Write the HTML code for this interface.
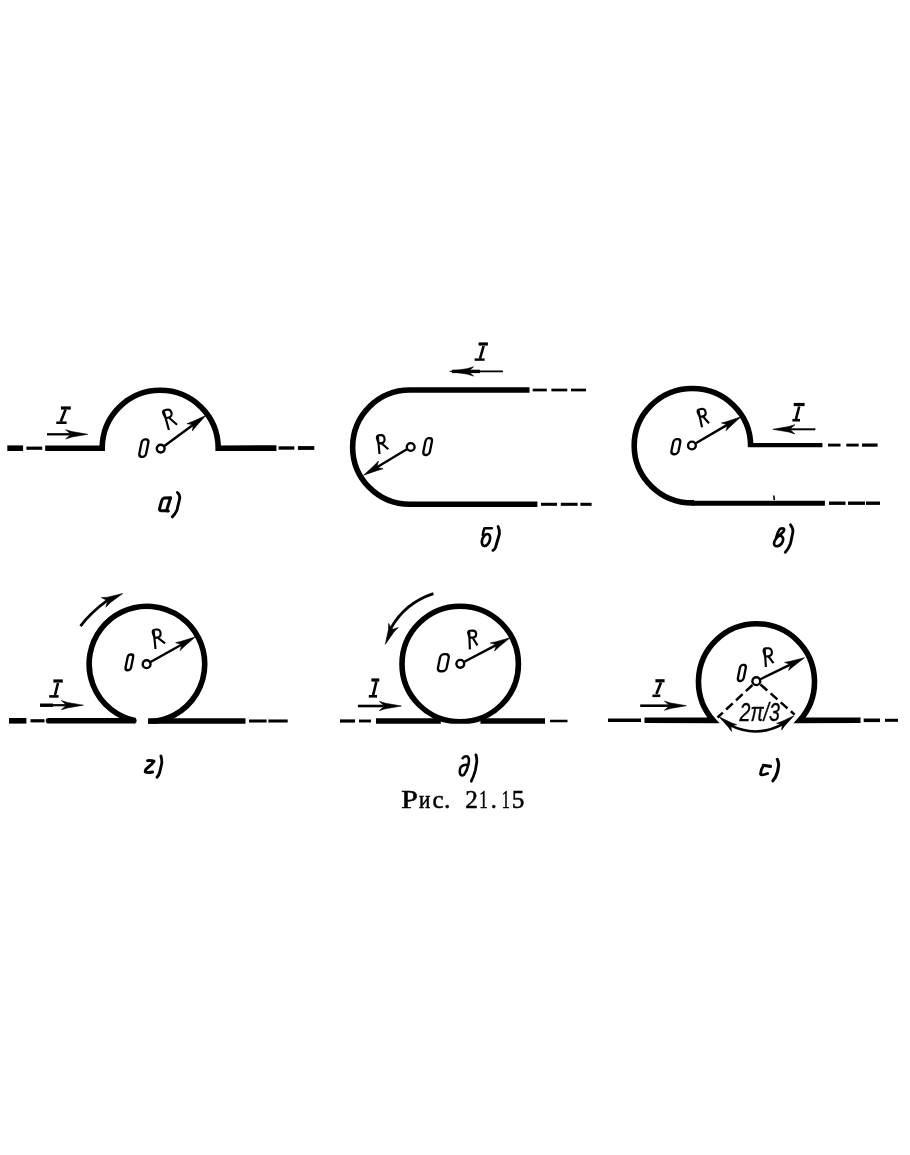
<!DOCTYPE html>
<html><head><meta charset="utf-8"><style>html,body{margin:0;padding:0;background:#fff;overflow:hidden;}svg{display:block;filter:blur(0.4px)}</style></head>
<body><svg width="910" height="1155" viewBox="0 0 910 1155" stroke="#000" fill="none">
<line x1="7.3" y1="448.2" x2="23.1" y2="448.2" stroke-width="5.6" stroke-linecap="butt"/>
<line x1="26.4" y1="448.2" x2="42.2" y2="448.2" stroke-width="3.23" stroke-linecap="butt"/>
<path d="M45.2,448.2 L102.2,448.2 A58,58 0 0 1 218.2,448.2 L276.4,448.1" stroke-width="5.6" fill="none" stroke-linecap="butt" stroke-linejoin="miter"/>
<line x1="278.6" y1="448" x2="294.3" y2="448" stroke-width="3.4" stroke-linecap="butt"/>
<line x1="297.9" y1="448" x2="314.3" y2="448" stroke-width="3.82" stroke-linecap="butt"/>
<line x1="60.9" y1="408" x2="70.8" y2="408" stroke-width="3.2" stroke-linecap="butt"/>
<line x1="56.3" y1="422.7" x2="66.6" y2="422.7" stroke-width="2.6" stroke-linecap="butt"/>
<line x1="65.6" y1="409.5" x2="60.8" y2="421.5" stroke-width="2.6" stroke-linecap="butt"/>
<line x1="47" y1="434.3" x2="69.7" y2="434.3" stroke-width="2.3" stroke-linecap="butt"/>
<path d="M87.7,434.3 L71.86,437 L65.7,438.9 L69.7,435.4 L69.7,433.2 L65.7,429.7 L71.86,431.6 Z" fill="#000" stroke="#000" stroke-width="0.6" stroke-linejoin="miter"/>
<line x1="164.33" y1="445.94" x2="192.9" y2="424.97" stroke-width="2.4" stroke-linecap="butt"/>
<path d="M205.8,415.5 L195.97,426.44 L192.34,430.96 L193.15,426.15 L191.85,424.38 L187.01,423.71 L192.42,421.6 Z" fill="#000" stroke="#000" stroke-width="0.6" stroke-linejoin="miter"/>
<circle cx="160.7" cy="448.6" r="3.9" fill="#fff" stroke-width="2.4"/>
<path d="M163.6,410.6 L168.9,430 M165.71,418.32 L163.28,413.59 Q162.44,410.92 164.37,410.39 L166.65,409.77 Q170.37,408.75 171.43,412.61 Q172.48,416.47 168.76,417.48 L165.71,418.32 M168.76,417.48 L177.1,424.7" stroke-width="2.15" fill="none" stroke-linecap="butt" stroke-linejoin="round"/>
<g transform="translate(143.85,448.1) skewX(-11.31)"><rect x="-3.39" y="-8.73" width="6.79" height="17.45" rx="2.85" ry="3.2" fill="none" stroke-width="2.35"/></g>
<path d="M529.5,390 L409.8,390 A57,57 0 0 0 409.8,504.3 L537.4,504.3" stroke-width="5.6" fill="none" stroke-linecap="butt" stroke-linejoin="miter"/>
<line x1="532.7" y1="390" x2="546.8" y2="390" stroke-width="2.72" stroke-linecap="butt"/>
<line x1="551.4" y1="390" x2="567.3" y2="390" stroke-width="2.72" stroke-linecap="butt"/>
<line x1="571" y1="390" x2="586" y2="390" stroke-width="2.72" stroke-linecap="butt"/>
<line x1="541" y1="504.3" x2="557" y2="504.3" stroke-width="3.06" stroke-linecap="butt"/>
<line x1="560.8" y1="504.3" x2="577.6" y2="504.3" stroke-width="3.06" stroke-linecap="butt"/>
<line x1="580.4" y1="504.3" x2="591.6" y2="504.3" stroke-width="3.06" stroke-linecap="butt"/>
<line x1="478.6" y1="344" x2="487.9" y2="344" stroke-width="3.2" stroke-linecap="butt"/>
<line x1="474.6" y1="359.6" x2="484.6" y2="359.6" stroke-width="2.4" stroke-linecap="butt"/>
<line x1="483.6" y1="346" x2="480" y2="358.6" stroke-width="2.6" stroke-linecap="butt"/>
<line x1="469.6" y1="371.4" x2="502.9" y2="371.4" stroke-width="1.8" stroke-linecap="butt"/>
<path d="M449.6,371.4 L466.88,368.7 L473.6,366.8 L469.6,370.3 L469.6,372.5 L473.6,376 L466.88,374.1 Z" fill="#000" stroke="#000" stroke-width="0.6" stroke-linejoin="miter"/>
<line x1="452" y1="371.4" x2="480" y2="371.4" stroke-width="3.4" stroke-linecap="butt"/>
<line x1="406.84" y1="449.31" x2="377.33" y2="466.98" stroke-width="2.4" stroke-linecap="butt"/>
<path d="M363.6,475.2 L374.41,465.23 L378.45,461.07 L377.19,465.78 L378.32,467.67 L383.07,468.79 L377.5,470.38 Z" fill="#000" stroke="#000" stroke-width="0.6" stroke-linejoin="miter"/>
<circle cx="410.7" cy="447" r="3.9" fill="#fff" stroke-width="2.4"/>
<path d="M377.8,435.4 L379.5,454 M378.53,443.37 L376.96,438.29 Q376.6,435.51 378.6,435.33 L380.67,435.14 Q384.17,434.82 384.53,438.8 Q384.9,442.78 381.39,443.1 L378.53,443.37 M381.39,443.1 L388.3,449.2" stroke-width="2.15" fill="none" stroke-linecap="butt" stroke-linejoin="round"/>
<g transform="translate(427.65,446.55) skewX(-11.31)"><rect x="-3.24" y="-8.48" width="6.49" height="16.95" rx="2.73" ry="3.2" fill="none" stroke-width="2.35"/></g>
<path d="M773.8,495.5 L774.3,500" stroke-width="1.6"/>
<path d="M750.6,447 L750.6,445.5 A58.2,57.2 0 1 0 692.4,502.9 L694,502.9" stroke-width="5.6" fill="none" stroke-linecap="butt" stroke-linejoin="miter"/>
<line x1="748.2" y1="445.1" x2="822.4" y2="445.1" stroke-width="4.3" stroke-linecap="butt"/>
<line x1="692.4" y1="503.2" x2="824.9" y2="503.2" stroke-width="5.0" stroke-linecap="butt"/>
<line x1="828" y1="445.1" x2="840.5" y2="445.1" stroke-width="2.89" stroke-linecap="butt"/>
<line x1="846.3" y1="445.1" x2="858.7" y2="445.1" stroke-width="2.89" stroke-linecap="butt"/>
<line x1="862" y1="445.1" x2="877.6" y2="445.1" stroke-width="3.23" stroke-linecap="butt"/>
<line x1="829" y1="503.2" x2="845.5" y2="503.2" stroke-width="3.4" stroke-linecap="butt"/>
<line x1="848" y1="503.2" x2="865" y2="503.2" stroke-width="3.4" stroke-linecap="butt"/>
<line x1="866" y1="503.2" x2="880" y2="503.2" stroke-width="3.4" stroke-linecap="butt"/>
<line x1="793.7" y1="404.5" x2="804.6" y2="404.5" stroke-width="3.2" stroke-linecap="butt"/>
<line x1="792.4" y1="420.2" x2="800" y2="420.2" stroke-width="2.6" stroke-linecap="butt"/>
<line x1="799.2" y1="406.5" x2="796" y2="419" stroke-width="2.6" stroke-linecap="butt"/>
<line x1="790.9" y1="429.3" x2="815.4" y2="429.3" stroke-width="2.0" stroke-linecap="butt"/>
<path d="M772.9,429.3 L788.74,426.6 L794.9,424.7 L790.9,428.2 L790.9,430.4 L794.9,433.9 L788.74,432 Z" fill="#000" stroke="#000" stroke-width="0.6" stroke-linejoin="miter"/>
<line x1="695.78" y1="443.23" x2="727.19" y2="424.87" stroke-width="2.4" stroke-linecap="butt"/>
<path d="M741,416.8 L730.08,426.66 L726,430.78 L727.31,426.08 L726.2,424.18 L721.46,423.01 L727.05,421.48 Z" fill="#000" stroke="#000" stroke-width="0.6" stroke-linejoin="miter"/>
<circle cx="691.9" cy="445.5" r="3.9" fill="#fff" stroke-width="2.4"/>
<path d="M698.3,409.6 L702,427.2 M699.84,416.94 L697.76,412.4 Q697.13,409.85 699.08,409.44 L701.22,408.99 Q704.79,408.24 705.56,411.91 Q706.33,415.58 702.76,416.33 L699.84,416.94 M702.76,416.33 L709,423.2" stroke-width="2.15" fill="none" stroke-linecap="butt" stroke-linejoin="round"/>
<g transform="translate(675.85,446.7) skewX(-11.31)"><rect x="-3.53" y="-7.52" width="7.07" height="15.05" rx="2.97" ry="3.2" fill="none" stroke-width="2.35"/></g>
<defs><clipPath id="cb"><rect x="0" y="0" width="910" height="723.8"/></clipPath></defs>
<line x1="9" y1="720.8" x2="26.4" y2="720.8" stroke-width="5.6" stroke-linecap="butt"/>
<line x1="30.5" y1="720.8" x2="44.5" y2="720.8" stroke-width="3.23" stroke-linecap="butt"/>
<line x1="48.6" y1="720.8" x2="133.8" y2="720.8" stroke-width="5.6" stroke-linecap="round"/>
<g clip-path="url(#cb)">
<path d="M135.5,720.76 A57.8,57.8 0 1 1 148.2,721.89" stroke-width="5.6" fill="none" stroke-linecap="butt" stroke-linejoin="miter"/>
</g>
<line x1="148.2" y1="721" x2="245.5" y2="721" stroke-width="5.6" stroke-linecap="butt"/>
<line x1="249" y1="721" x2="266.6" y2="721" stroke-width="3.06" stroke-linecap="butt"/>
<line x1="268.4" y1="721" x2="287.7" y2="721" stroke-width="3.06" stroke-linecap="butt"/>
<line x1="53.4" y1="681" x2="62.8" y2="681" stroke-width="3.2" stroke-linecap="butt"/>
<line x1="49.2" y1="696.4" x2="58.6" y2="696.4" stroke-width="2.6" stroke-linecap="butt"/>
<line x1="58" y1="683" x2="55" y2="695" stroke-width="2.6" stroke-linecap="butt"/>
<line x1="40.1" y1="705.2" x2="65.3" y2="705.2" stroke-width="2.2" stroke-linecap="butt"/>
<path d="M83.3,705.2 L67.46,707.9 L61.3,709.8 L65.3,706.3 L65.3,704.1 L61.3,700.6 L67.46,702.5 Z" fill="#000" stroke="#000" stroke-width="0.6" stroke-linejoin="miter"/>
<line x1="40.1" y1="705.2" x2="53" y2="705.2" stroke-width="3.4" stroke-linecap="butt"/>
<line x1="150.53" y1="662" x2="181.34" y2="644.72" stroke-width="2.4" stroke-linecap="butt"/>
<path d="M195.3,636.9 L184.21,646.56 L180.05,650.61 L181.45,645.93 L180.37,644.01 L175.65,642.75 L181.27,641.32 Z" fill="#000" stroke="#000" stroke-width="0.6" stroke-linejoin="miter"/>
<circle cx="146.6" cy="664.2" r="3.9" fill="#fff" stroke-width="2.4"/>
<path d="M153.6,629.8 L155.5,649 M154.39,637.76 L152.78,632.69 Q152.41,629.92 154.4,629.72 L156.57,629.51 Q160.2,629.15 160.59,633.13 Q160.99,637.11 157.36,637.47 L154.39,637.76 M157.36,637.47 L165.1,643.4" stroke-width="2.15" fill="none" stroke-linecap="butt" stroke-linejoin="round"/>
<g transform="translate(129.35,662.35) skewX(-11.31)"><rect x="-2.76" y="-7.88" width="5.53" height="15.75" rx="2.32" ry="3.2" fill="none" stroke-width="2.35"/></g>
<path d="M80.5,626.1 Q90,613 108,599.8" stroke-width="2.7" fill="none" stroke-linecap="butt" stroke-linejoin="miter"/>
<path d="M122.7,593.5 L110.28,602.63 L105.91,607.17 L107.32,601.92 L106.39,599.93 L101.46,597.66 L107.74,597.2 Z" fill="#000" stroke="#000" stroke-width="0.6" stroke-linejoin="miter"/>
<ellipse cx="460.2" cy="664" rx="58.2" ry="57.8" fill="none" stroke-width="5.6" clip-path="url(#cb)"/>
<line x1="340" y1="721" x2="355" y2="721" stroke-width="3.23" stroke-linecap="butt"/>
<line x1="359" y1="721" x2="371" y2="721" stroke-width="2.89" stroke-linecap="butt"/>
<line x1="376" y1="721" x2="440.8" y2="721" stroke-width="5.6" stroke-linecap="butt"/>
<line x1="480.4" y1="721" x2="545" y2="721" stroke-width="5.6" stroke-linecap="butt"/>
<line x1="550" y1="721" x2="567.5" y2="721" stroke-width="2.55" stroke-linecap="butt"/>
<line x1="371.4" y1="680" x2="379.3" y2="680" stroke-width="3.2" stroke-linecap="butt"/>
<line x1="368.8" y1="696.3" x2="377" y2="696.3" stroke-width="2.6" stroke-linecap="butt"/>
<line x1="376.4" y1="681.5" x2="373.1" y2="695.1" stroke-width="2.6" stroke-linecap="butt"/>
<line x1="357.9" y1="706" x2="383.4" y2="706" stroke-width="2.6" stroke-linecap="butt"/>
<path d="M401.4,706 L385.56,708.7 L379.4,710.6 L383.4,707.1 L383.4,704.9 L379.4,701.4 L385.56,703.3 Z" fill="#000" stroke="#000" stroke-width="0.6" stroke-linejoin="miter"/>
<line x1="464.29" y1="661.71" x2="496.02" y2="645.12" stroke-width="2.4" stroke-linecap="butt"/>
<path d="M510.2,637.7 L498.83,647.03 L494.56,650.96 L496.09,646.32 L495.07,644.37 L490.39,642.98 L496.05,641.72 Z" fill="#000" stroke="#000" stroke-width="0.6" stroke-linejoin="miter"/>
<circle cx="460.3" cy="663.8" r="3.9" fill="#fff" stroke-width="2.4"/>
<path d="M469.2,630.8 L469.9,649.4 M469.46,637.6 L468.19,633.22 Q468,630.85 470,630.77 L472.29,630.68 Q476.06,630.54 476.19,633.94 Q476.31,637.34 472.54,637.48 L469.46,637.6 M472.54,637.48 L477.5,645.4" stroke-width="2.15" fill="none" stroke-linecap="butt" stroke-linejoin="round"/>
<g transform="translate(443.35,662.7) skewX(-11.31)"><rect x="-4.34" y="-8.52" width="8.67" height="17.05" rx="3.64" ry="3.2" fill="none" stroke-width="2.35"/></g>
<path d="M433.4,593.6 Q405,603 391,628" stroke-width="2.7" fill="none" stroke-linecap="butt" stroke-linejoin="miter"/>
<path d="M385.3,644.3 L388.45,629.57 L388.68,623.41 L391.09,628.28 L393.1,629.16 L398.31,627.61 L393.95,631.97 Z" fill="#000" stroke="#000" stroke-width="0.6" stroke-linejoin="miter"/>
<path d="M644.5,720.3 L713.3,720.4 A58,58 0 1 1 799.7,720.4 L860.5,720.3" stroke-width="5.6" fill="none" stroke-linecap="butt" stroke-linejoin="miter"/>
<line x1="608" y1="720.3" x2="641" y2="720.3" stroke-width="3.57" stroke-linecap="butt"/>
<line x1="863.7" y1="720.3" x2="880" y2="720.3" stroke-width="3.57" stroke-linecap="butt"/>
<line x1="885" y1="720.3" x2="898" y2="720.3" stroke-width="3.06" stroke-linecap="butt"/>
<line x1="752.5" y1="685" x2="717.5" y2="717.5" stroke-width="2.5" stroke-dasharray="9,4.5"/>
<line x1="760.5" y1="684.5" x2="794.6" y2="714.6" stroke-width="2.5" stroke-dasharray="9,4.5"/>
<path d="M730,725.2 Q757,738.5 783.5,723.6" stroke-width="2.6" fill="none" stroke-linecap="butt" stroke-linejoin="miter"/>
<path d="M718.9,716.7 L731.39,722.85 L736.63,724.74 L732.34,725.45 L731.02,727.2 L731.52,731.53 L728.26,727.01 Z" fill="#000" stroke="#000" stroke-width="0.6" stroke-linejoin="miter"/>
<path d="M794,715.7 L784.82,725.69 L781.62,730.09 L782.17,725.78 L780.87,724.01 L776.58,723.25 L781.73,721.51 Z" fill="#000" stroke="#000" stroke-width="0.6" stroke-linejoin="miter"/>
<text x="739.5" y="720.6" font-family="Liberation Sans" font-style="italic" fill="#000" font-size="26" textLength="40.5" lengthAdjust="spacingAndGlyphs" stroke="#000" stroke-width="0.35">2π/3</text>
<line x1="760.35" y1="679.23" x2="790.21" y2="664.7" stroke-width="2.4" stroke-linecap="butt"/>
<path d="M804.6,657.7 L792.96,666.7 L788.58,670.5 L790.24,665.91 L789.28,663.93 L784.65,662.4 L790.34,661.3 Z" fill="#000" stroke="#000" stroke-width="0.6" stroke-linejoin="miter"/>
<circle cx="756.3" cy="681.2" r="3.9" fill="#fff" stroke-width="2.4"/>
<path d="M764.6,648.5 L765.9,667 M765.16,656.48 L763.7,651.37 Q763.4,648.58 765.4,648.44 L767.75,648.28 Q771.6,648.01 771.88,652 Q772.16,655.99 768.31,656.26 L765.16,656.48 M768.31,656.26 L773.5,663.1" stroke-width="2.15" fill="none" stroke-linecap="butt" stroke-linejoin="round"/>
<g transform="translate(741.85,672.95) skewX(-11.31)"><rect x="-2.92" y="-8.07" width="5.85" height="16.15" rx="2.46" ry="3.2" fill="none" stroke-width="2.35"/></g>
<line x1="655.4" y1="680.8" x2="664.6" y2="680.8" stroke-width="3.2" stroke-linecap="butt"/>
<line x1="652.4" y1="695.8" x2="660.3" y2="695.8" stroke-width="2.6" stroke-linecap="butt"/>
<line x1="661" y1="682.5" x2="656.4" y2="694.1" stroke-width="2.6" stroke-linecap="butt"/>
<line x1="640.2" y1="705.7" x2="668.4" y2="705.7" stroke-width="2.6" stroke-linecap="butt"/>
<path d="M686.4,705.7 L670.56,708.4 L664.4,710.3 L668.4,706.8 L668.4,704.6 L664.4,701.1 L670.56,703 Z" fill="#000" stroke="#000" stroke-width="0.6" stroke-linejoin="miter"/>
<path d="M164.2,498 L170.6,497.7 L166.6,510.3 Q166.4,511.4 168.3,511 M164.2,498 Q162.2,498.5 161.6,501 L159.6,508.5 Q159.2,510.8 161.5,510.8 L166.6,510.6" stroke-width="2.95" fill="none" stroke-linecap="round" stroke-linejoin="round"/>
<path d="M177.4,492.5 Q179.8,494.5 179.8,498 L177,510 Q175,514.5 172.3,516.9" stroke-width="2.85" fill="none" stroke-linecap="round" stroke-linejoin="round"/>
<path d="M491.8,528.2 L484.6,528.2 Q483.2,531 482.9,535" stroke-width="2.65" fill="none" stroke-linecap="round" stroke-linejoin="round"/>
<ellipse cx="486" cy="540" rx="3.7" ry="6.3" transform="rotate(22 486 540)" stroke-width="2.65" fill="none"/>
<path d="M498.1,526.6 Q499.8,530 499.4,534 L495.5,547.5 Q494.5,549.8 493,550.4" stroke-width="2.85" fill="none" stroke-linecap="round" stroke-linejoin="round"/>
<path d="M778.6,536 Q781,534 783.5,531.5 Q785.3,528.6 782.5,528.4 L780,528.8 Q777.5,532 776.2,537.5 M779.5,535.4 Q774.7,538.5 774,543.5 Q774,546.3 777.3,546.2 Q781.5,545.5 783,540.5 Q783.8,537 780,535.6" stroke-width="2.65" fill="none" stroke-linecap="round" stroke-linejoin="round"/>
<path d="M790.5,524.8 Q793.2,528 792.9,532 L790.5,543.5 Q788.5,549 785.3,552.2" stroke-width="2.85" fill="none" stroke-linecap="round" stroke-linejoin="round"/>
<path d="M147.5,760.6 Q151,760.2 154,761.2 Q152,764.5 148.5,767 Q145,769.5 145.2,772 Q148,773 152.6,772" stroke-width="2.85" fill="none" stroke-linecap="round" stroke-linejoin="round"/>
<path d="M160.9,756 Q162,759 161.8,763 L159.8,772 Q158.8,775.5 157,777.3" stroke-width="2.85" fill="none" stroke-linecap="round" stroke-linejoin="round"/>
<path d="M462.7,758.2 Q465,755.6 467.5,756.5 Q469.8,758.5 468.4,764.5 Q467,771 464,774.8 Q461,776.5 460,773.5 Q459.3,769 461,766.8 Q463.5,764.3 468,764.8" stroke-width="2.57" fill="none" stroke-linecap="round" stroke-linejoin="round"/>
<path d="M475.9,754.8 Q477,758 476.8,762 L475.3,770.5 Q473.8,776 471.3,781.2" stroke-width="2.75" fill="none" stroke-linecap="round" stroke-linejoin="round"/>
<path d="M763.4,765.3 L770.5,766.4" stroke-width="3.13" fill="none" stroke-linecap="round" stroke-linejoin="round"/>
<path d="M763.4,765.8 Q760.8,769 760.5,774 Q761.5,776 767.6,773.5" stroke-width="2.85" fill="none" stroke-linecap="round" stroke-linejoin="round"/>
<path d="M777.3,759.3 Q778.8,762 778.6,765.5 L777.6,771.5 Q776,777.5 772.9,780.8" stroke-width="3.0500000000000003" fill="none" stroke-linecap="round" stroke-linejoin="round"/>
<g transform="translate(401.29,808.4) scale(1.17,1)"><text x="0" y="0" font-family="Liberation Serif" font-size="25.5" fill="#000" stroke="#000" stroke-width="0.55">Р</text></g>
<g transform="translate(419.1,808.4) scale(0.83,1)"><text x="0" y="0" font-family="Liberation Serif" font-size="25.5" fill="#000" stroke="#000" stroke-width="0.55">и</text></g>
<g transform="translate(432.38,808.4) scale(0.98,1)"><text x="0" y="0" font-family="Liberation Serif" font-size="25.5" fill="#000" stroke="#000" stroke-width="0.55">с</text></g>
<g transform="translate(444.07,808.4) scale(1,1)"><text x="0" y="0" font-family="Liberation Serif" font-size="25.5" fill="#000" stroke="#000" stroke-width="0.55">.</text></g>
<g transform="translate(465.27,808.4) scale(0.99,1)"><text x="0" y="0" font-family="Liberation Serif" font-size="25.5" fill="#000" stroke="#000" stroke-width="0.55">2</text></g>
<g transform="translate(479.17,808.4) scale(0.66,1)"><text x="0" y="0" font-family="Liberation Serif" font-size="25.5" fill="#000" stroke="#000" stroke-width="0.55">1</text></g>
<g transform="translate(490.64,808.4) scale(0.95,1)"><text x="0" y="0" font-family="Liberation Serif" font-size="25.5" fill="#000" stroke="#000" stroke-width="0.55">.</text></g>
<g transform="translate(501.82,808.4) scale(0.63,1)"><text x="0" y="0" font-family="Liberation Serif" font-size="25.5" fill="#000" stroke="#000" stroke-width="0.55">1</text></g>
<g transform="translate(511.65,808.4) scale(0.99,1)"><text x="0" y="0" font-family="Liberation Serif" font-size="25.5" fill="#000" stroke="#000" stroke-width="0.55">5</text></g>
</svg></body></html>
